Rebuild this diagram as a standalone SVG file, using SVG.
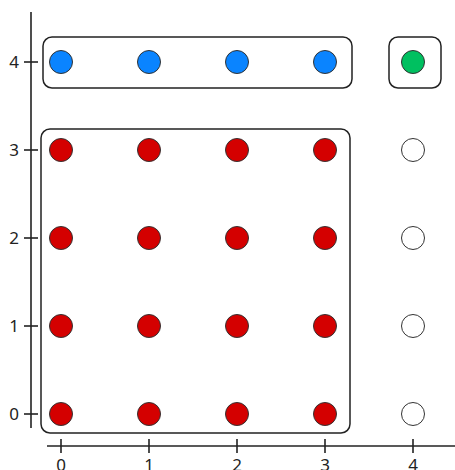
<svg xmlns="http://www.w3.org/2000/svg" width="455" height="470" viewBox="0 0 455 470">
<style>
.ax{stroke:#222;stroke-width:1.6;fill:none}
.box{fill:none;stroke:#222;stroke-width:1.5}
.pt{stroke:#333;stroke-width:1}
.blue{fill:#0a84ff}
.red{fill:#d40000}
.green{fill:#00c060}
.empty{fill:#fff}
.lbl{font-family:"Noto Sans","DejaVu Sans",sans-serif;font-size:17px;fill:#222}
</style>
<rect width="455" height="470" fill="#fff"/>
<g id="axes">
<line class="ax" x1="31" y1="12" x2="31" y2="428"/>
<line class="ax" x1="47" y1="446" x2="455" y2="446"/>
<g class="ax">
<line x1="24" y1="62" x2="38" y2="62"/>
<line x1="24" y1="150" x2="38" y2="150"/>
<line x1="24" y1="238" x2="38" y2="238"/>
<line x1="24" y1="326" x2="38" y2="326"/>
<line x1="24" y1="414" x2="38" y2="414"/>
<line x1="61" y1="439" x2="61" y2="453"/>
<line x1="149" y1="439" x2="149" y2="453"/>
<line x1="237" y1="439" x2="237" y2="453"/>
<line x1="325" y1="439" x2="325" y2="453"/>
<line x1="413" y1="439" x2="413" y2="453"/>
</g>
<g class="lbl" text-anchor="end">
<text x="19" y="68">4</text>
<text x="19" y="156">3</text>
<text x="19" y="244">2</text>
<text x="19" y="332">1</text>
<text x="19" y="420">0</text>
</g>
<g class="lbl" text-anchor="middle">
<text x="61" y="471">0</text>
<text x="149" y="471">1</text>
<text x="237" y="471">2</text>
<text x="325" y="471">3</text>
<text x="413" y="471">4</text>
</g>
</g>
<g id="blue-group">
<rect class="box" x="43" y="37" width="309" height="51" rx="9"/>
<circle class="pt blue" cx="61" cy="62" r="11.5"/>
<circle class="pt blue" cx="149" cy="62" r="11.5"/>
<circle class="pt blue" cx="237" cy="62" r="11.5"/>
<circle class="pt blue" cx="325" cy="62" r="11.5"/>
</g>
<g id="green-group">
<rect class="box" x="389" y="37" width="52" height="51" rx="9"/>
<circle class="pt green" cx="413" cy="62" r="11.5"/>
</g>
<g id="red-group">
<rect class="box" x="41" y="129" width="309" height="304" rx="9"/>
<circle class="pt red" cx="61" cy="150" r="11.5"/>
<circle class="pt red" cx="149" cy="150" r="11.5"/>
<circle class="pt red" cx="237" cy="150" r="11.5"/>
<circle class="pt red" cx="325" cy="150" r="11.5"/>
<circle class="pt red" cx="61" cy="238" r="11.5"/>
<circle class="pt red" cx="149" cy="238" r="11.5"/>
<circle class="pt red" cx="237" cy="238" r="11.5"/>
<circle class="pt red" cx="325" cy="238" r="11.5"/>
<circle class="pt red" cx="61" cy="326" r="11.5"/>
<circle class="pt red" cx="149" cy="326" r="11.5"/>
<circle class="pt red" cx="237" cy="326" r="11.5"/>
<circle class="pt red" cx="325" cy="326" r="11.5"/>
<circle class="pt red" cx="61" cy="414" r="11.5"/>
<circle class="pt red" cx="149" cy="414" r="11.5"/>
<circle class="pt red" cx="237" cy="414" r="11.5"/>
<circle class="pt red" cx="325" cy="414" r="11.5"/>
</g>
<g id="empty-points">
<circle class="pt empty" cx="413" cy="150" r="11.5"/>
<circle class="pt empty" cx="413" cy="238" r="11.5"/>
<circle class="pt empty" cx="413" cy="326" r="11.5"/>
<circle class="pt empty" cx="413" cy="414" r="11.5"/>
</g>
</svg>
